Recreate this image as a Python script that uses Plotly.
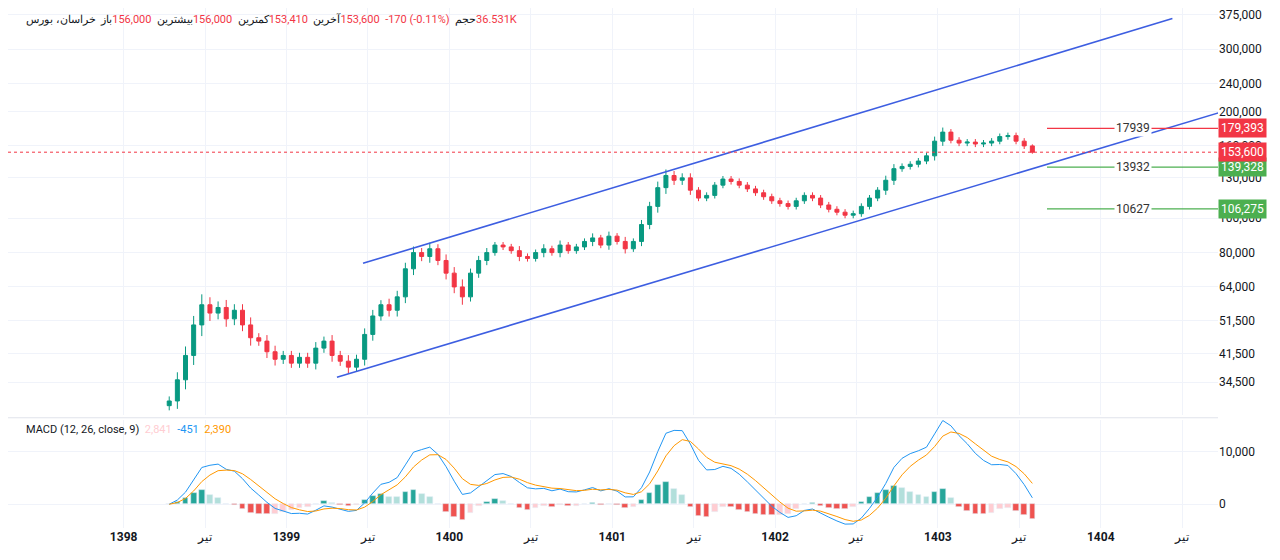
import numpy as np
import pandas as pd
import plotly.graph_objects as go
from plotly.subplots import make_subplots

# closes (thousand rial), one candle per ~2.5 weeks, from 1398.28 to 1403.60
closes = [30.5, 35, 41, 50, 57, 54, 56, 52, 55, 50, 46, 45, 42, 40, 41, 39, 40.5, 39, 43, 45,
          41, 39.5, 38, 40, 47, 53, 57, 55, 60, 72, 80, 78, 82, 76, 70, 64, 60, 70, 76, 80,
          84, 83, 81, 78, 77, 80, 82, 80, 84, 81, 83, 86, 88, 84, 89, 86, 82, 86, 96, 108,
          122, 132, 128, 130, 120, 114, 116, 124, 129, 127, 124, 121, 118, 115, 112, 110, 108, 112, 116, 114,
          109, 106, 104, 102, 103, 108, 114, 120, 128, 138, 140, 142, 145, 150, 165, 175, 166, 163, 164, 162,
          163, 165, 170, 171, 165, 160, 153.6]
wicks = [3, 5, 6, 6, 7, 5, 4, 5, 4, 4, 5, 3, 4, 4, 3, 3, 3, 3, 4, 3,
         4, 3, 4, 3, 4, 4, 3, 4, 4, 4, 4, 3, 4, 3, 4, 4, 5, 3, 3, 3,
         2, 2, 2, 3, 2, 2, 3, 2, 3, 2, 2, 2, 3, 2, 3, 2, 3, 2, 3, 3,
         4, 4, 3, 3, 3, 2, 2, 2, 2, 2, 2, 2, 2, 2, 2, 2, 2, 2, 2, 2,
         2, 2, 2, 2, 2, 2, 2, 2, 3, 3, 2, 2, 2, 2, 3, 3, 2, 2, 2, 2,
         2, 2, 2, 2, 2, 2, 1]
start_year, step = 1398.28, 0.05

upper_channel = ([1399.47, 1404.44], [74600, 366000])
lower_channel = ([1399.31, 1404.75], [35600, 200000])
levels = [(179393, "17939", "#f23645"), (139328, "13932", "#4caf50"), (106275, "10627", "#4caf50")]
last_price = 153600
price_ticks = [34500, 41500, 51500, 64000, 80000, 100000, 130000, 160000, 200000, 240000, 300000, 375000]
years = [1398, 1399, 1400, 1401, 1402, 1403, 1404]
header = [("خراسان، بورس", ""), ("باز", "156,000"), ("بیشترین", "156,000"), ("کمترین", "153,410"),
          ("آخرین", "153,600"), ("", "-170 (-0.11%)"), ("حجم", "36.531K")]
macd_vals = ["2,841", "-451", "2,390"]

c = np.array(closes) * 1000
o = np.concatenate([[c[0] * 0.97], c[:-1]])
w = np.array(wicks) / 100
h = np.maximum(o, c) * (1 + w)
l = np.minimum(o, c) * (1 - w)
x = start_year + step * np.arange(len(c))

s = pd.Series(c)
macd = s.ewm(span=5, adjust=False).mean() - s.ewm(span=12, adjust=False).mean()
signal = macd.ewm(span=4, adjust=False).mean()
hist = macd - signal
hcol = []
for i, v in enumerate(hist):
    prev = hist[i - 1] if i else 0
    if v >= 0:
        hcol.append("#26a69a" if v >= prev else "#b2dfdb")
    else:
        hcol.append("#ef5350" if v <= prev else "#ffcdd2")

fig = make_subplots(rows=2, cols=1, shared_xaxes=True, row_heights=[0.79, 0.21], vertical_spacing=0.01)
fig.add_trace(go.Candlestick(x=x, open=o, high=h, low=l, close=c,
                             increasing=dict(line=dict(color="#089981", width=1), fillcolor="#089981"),
                             decreasing=dict(line=dict(color="#f23645", width=1), fillcolor="#f23645"),
                             whiskerwidth=0, showlegend=False), row=1, col=1)
for xs, ys in (upper_channel, lower_channel):
    fig.add_trace(go.Scatter(x=xs, y=ys, mode="lines", line=dict(color="#3d5ee1", width=1.6),
                             showlegend=False, hoverinfo="skip"), row=1, col=1)
xr = [1397.29, 1404.72]
fig.add_trace(go.Scatter(x=xr, y=[last_price] * 2, mode="lines",
                         line=dict(color="#f23645", width=1, dash="dot"), showlegend=False), row=1, col=1)
for val, lab, col in levels:
    fig.add_trace(go.Scatter(x=[1403.67, 1404.72], y=[val, val], mode="lines",
                             line=dict(color=col, width=1.3), showlegend=False), row=1, col=1)
    fig.add_annotation(x=1404.2, y=np.log10(val), xref="x", yref="y", text=lab, showarrow=False,
                       bgcolor="white", font=dict(size=12, color="#333"))
    fig.add_annotation(x=1, y=np.log10(val), xref="paper", yref="y", xanchor="left", text=f"{val:,}",
                       showarrow=False, bgcolor=col, font=dict(size=12, color="white"), borderpad=2)
fig.add_annotation(x=1, y=np.log10(last_price), xref="paper", yref="y", xanchor="left", text=f"{last_price:,}",
                   showarrow=False, bgcolor="#f23645", font=dict(size=12, color="white"), borderpad=2)

fig.add_trace(go.Bar(x=x, y=hist, marker_color=hcol, width=0.035, showlegend=False), row=2, col=1)
fig.add_trace(go.Scatter(x=x, y=macd, mode="lines", line=dict(color="#2196f3", width=1), showlegend=False), row=2, col=1)
fig.add_trace(go.Scatter(x=x, y=signal, mode="lines", line=dict(color="#ff9800", width=1), showlegend=False), row=2, col=1)

tickvals, ticktext = [], []
for y in years:
    tickvals += [y, y + 0.5]
    ticktext += [f"<b>{y}</b>", "تیر"]
fig.update_xaxes(range=xr, showgrid=True, gridcolor="#f0f3fa", rangeslider_visible=False,
                 tickvals=tickvals, ticktext=ticktext, showline=False, zeroline=False)
fig.update_xaxes(showticklabels=False, row=1, col=1)
fig.update_xaxes(tickfont=dict(size=12, color="#131722"), row=2, col=1)
fig.update_yaxes(side="right", showgrid=True, gridcolor="#f0f3fa", tickfont=dict(size=12, color="#131722"),
                 zeroline=False)
fig.update_yaxes(type="log", range=[np.log10(27900), np.log10(392000)], tickvals=price_ticks,
                 tickformat=",", row=1, col=1)
fig.update_yaxes(range=[-4500, 16000], tickvals=[0, 10000], tickformat=",", row=2, col=1)

LRM = "\u200e"
parts = []
for lab, num in header:
    seg = (lab + LRM) if lab else ""
    if num:
        seg += f"<span style='color:#f23645'>{num}</span>{LRM}"
    parts.append(seg)
fig.add_annotation(x=0.013, y=0.995, xref="paper", yref="paper", xanchor="left", yanchor="top", showarrow=False,
                   text=("  " + LRM).join(parts), font=dict(size=11, color="#131722"))
fig.add_annotation(x=0.013, y=0.205, xref="paper", yref="paper", xanchor="left", yanchor="top", showarrow=False,
                   text="MACD (12, 26, close, 9)  <span style='color:#ffcdd2'>%s</span>  <span style='color:#2196f3'>%s</span>  <span style='color:#ff9800'>%s</span>" % tuple(macd_vals),
                   font=dict(size=11, color="#131722"))
fig.update_layout(width=1280, height=560, margin=dict(l=0, r=70, t=0, b=40), plot_bgcolor="white",
                  paper_bgcolor="white", font=dict(family="Roboto"), bargap=0)
fig.add_shape(type="line", xref="paper", yref="paper", x0=0, x1=1, y0=0.212, y1=0.212, line=dict(color="#e0e3eb", width=1))
fig.write_html("out.html")
